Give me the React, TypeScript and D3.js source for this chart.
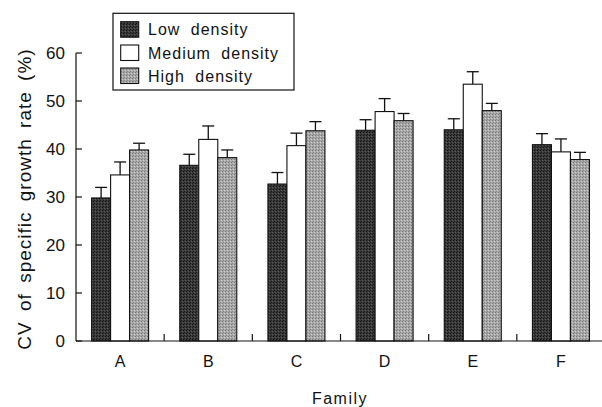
import React from "react";
import * as d3 from "d3";

const families = ["A", "B", "C", "D", "E", "F"];
const seriesNames = ["Low density", "Medium density", "High density"];
const lowValues = [29.8, 36.6, 32.7, 43.9, 44.0, 40.9];
const lowErrors = [2.2, 2.3, 2.4, 2.2, 2.3, 2.3];
const mediumValues = [34.6, 42.0, 40.7, 47.8, 53.5, 39.4];
const mediumErrors = [2.7, 2.8, 2.6, 2.7, 2.6, 2.7];
const highValues = [39.8, 38.2, 43.8, 45.9, 48.0, 37.8];
const highErrors = [1.4, 1.6, 1.9, 1.5, 1.5, 1.5];
const yTicks = [0, 10, 20, 30, 40, 50, 60];

const FONT = "'Liberation Sans', Arial, Helvetica, sans-serif";

export default function App() {
  const W = 602;
  const H = 407;
  const left = 76;
  const bottom = 341;
  const top = 53;

  const x = d3.scaleBand<string>().domain(families).range([left, 605]).paddingInner(0).paddingOuter(0);
  const xs = d3.scaleBand<string>().domain(seriesNames).range([15.6, 72.6]).padding(0);
  const y = d3.scaleLinear().domain([0, 60]).range([bottom, top]);

  const series = [
    { name: seriesNames[0], values: lowValues, errors: lowErrors, fill: "url(#patLow)" },
    { name: seriesNames[1], values: mediumValues, errors: mediumErrors, fill: "#ffffff" },
    { name: seriesNames[2], values: highValues, errors: highErrors, fill: "url(#patHigh)" },
  ];

  const bw = xs.bandwidth();
  const cap = 12;

  return (
    <svg width={W} height={H} style={{ position: "absolute", left: 0, top: 0, background: "#fff" }} fontFamily={FONT}>
      <defs>
        <pattern id="patLow" width="3" height="3" patternUnits="userSpaceOnUse">
          <rect width="3" height="3" fill="#3a3a3a" />
          <rect x="0" y="0" width="1" height="1" fill="#111" />
          <rect x="2" y="1" width="1" height="1" fill="#5a5a5a" />
          <rect x="1" y="2" width="1" height="1" fill="#1a1a1a" />
        </pattern>
        <pattern id="patHigh" width="3" height="3" patternUnits="userSpaceOnUse">
          <rect width="3" height="3" fill="#a8a8a8" />
          <rect x="0" y="0" width="1" height="1" fill="#777" />
          <rect x="2" y="1" width="1" height="1" fill="#d0d0d0" />
          <rect x="1" y="2" width="1" height="1" fill="#888" />
        </pattern>
      </defs>

      {/* bars */}
      {series.map((s) =>
        families.map((f, i) => {
          const bx = (x(f) as number) + (xs(s.name) as number);
          const by = y(s.values[i]);
          const cx = bx + bw / 2;
          const ey = y(s.values[i] + s.errors[i]);
          return (
            <g key={s.name + f}>
              <line x1={cx} x2={cx} y1={by} y2={ey} stroke="#111" strokeWidth={1.3} />
              <line x1={cx - cap / 2} x2={cx + cap / 2} y1={ey} y2={ey} stroke="#111" strokeWidth={1.3} />
              <rect x={bx} y={by} width={bw} height={bottom - by} fill={s.fill} stroke="#111" strokeWidth={1.1} />
            </g>
          );
        })
      )}

      {/* y axis */}
      <line x1={left} x2={left} y1={top} y2={bottom} stroke="#111" strokeWidth={1.2} />
      {yTicks.map((t) => (
        <g key={t}>
          <line x1={left} x2={left + 6} y1={y(t)} y2={y(t)} stroke="#111" strokeWidth={1.2} />
          <text x={65} y={y(t)} dy="0.36em" textAnchor="end" fontSize={17} fill="#111">
            {t}
          </text>
        </g>
      ))}

      {/* x axis */}
      <line x1={left} x2={W} y1={bottom} y2={bottom} stroke="#111" strokeWidth={1.2} />
      {families.slice(1).map((f) => (
        <line key={"t" + f} x1={x(f) as number} x2={x(f) as number} y1={bottom} y2={bottom - 7} stroke="#111" strokeWidth={1.2} />
      ))}
      {families.map((f) => (
        <text key={"l" + f} x={(x(f) as number) + x.bandwidth() / 2} y={366.7} textAnchor="middle" fontSize={16} fill="#111">
          {f}
        </text>
      ))}
      <text x={340} y={404} textAnchor="middle" fontSize={16} letterSpacing={1.5} fill="#111">
        Family
      </text>

      {/* y label */}
      <text
        transform={`translate(31,${(top + bottom) / 2 + 2}) rotate(-90)`}
        textAnchor="middle"
        fontSize={19}
        letterSpacing={1}
        wordSpacing={4}
        fill="#111"
      >
        CV of specific growth rate (%)
      </text>

      {/* legend */}
      <rect x={113} y={13.3} width={181} height={76.7} fill="#fff" stroke="#111" strokeWidth={1.2} />
      {series.map((s, i) => {
        const sy = [21.7, 45, 68][i];
        const ty = [35, 59, 82.3][i];
        return (
          <g key={"leg" + s.name}>
            <rect x={120.7} y={sy} width={18} height={15.5} fill={s.fill} stroke="#111" strokeWidth={1.1} />
            <text x={148} y={ty} fontSize={16} letterSpacing={1} wordSpacing={5} fill="#111">
              {s.name}
            </text>
          </g>
        );
      })}
    </svg>
  );
}
